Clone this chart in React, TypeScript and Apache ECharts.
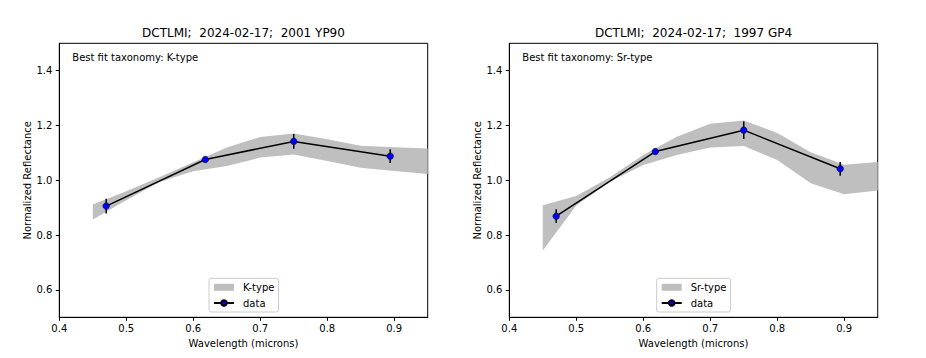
import React, { useEffect, useRef } from 'react';
import * as echarts from 'echarts';

// ---- data ----
const wavelengths = [0.47, 0.618, 0.75, 0.894];
const leftValues = [0.906, 1.076, 1.142, 1.088];
const leftErrors = [0.027, 0.008, 0.027, 0.025];
const rightValues = [0.869, 1.105, 1.183, 1.042];
const rightErrors = [0.025, 0.008, 0.032, 0.025];

const bandWavelengths = [0.45, 0.5, 0.55, 0.6, 0.65, 0.7, 0.75, 0.8, 0.85, 0.9, 0.95];
const kTypeUpper = [0.912, 0.96, 1.012, 1.066, 1.12, 1.158, 1.171, 1.15, 1.126, 1.121, 1.116];
const kTypeLower = [0.857, 0.927, 0.995, 1.033, 1.052, 1.083, 1.094, 1.07, 1.046, 1.034, 1.023];
const srTypeUpper = [0.909, 0.943, 1.011, 1.092, 1.159, 1.206, 1.218, 1.173, 1.102, 1.057, 1.067];
const srTypeLower = [0.744, 0.908, 0.995, 1.056, 1.092, 1.12, 1.125, 1.074, 0.989, 0.949, 0.963];

const xTicks = [0.4, 0.5, 0.6, 0.7, 0.8, 0.9];
const yTicks = [0.6, 0.8, 1.0, 1.2, 1.4];
const titles = ['DCTLMI;  2024-02-17;  2001 YP90', 'DCTLMI;  2024-02-17;  1997 GP4'];
const taxonomies = ['K-type', 'Sr-type'];

const FONT = '"DejaVu Sans", "Liberation Sans", sans-serif';
const BAND = '#bfbfbf';

const GRID_LEFTS = [59.3, 509.3];
const GRID_TOP = 43.3;
const GRID_W = 368.4;
const GRID_H = 274;

export default function App() {
  const ref = useRef<HTMLDivElement>(null);

  useEffect(() => {
    if (!ref.current) return;
    const chart = echarts.init(ref.current, null, { renderer: 'svg' });

    const panels = [
      { values: leftValues, errors: leftErrors, upper: kTypeUpper, lower: kTypeLower },
      { values: rightValues, errors: rightErrors, upper: srTypeUpper, lower: srTypeLower },
    ];

    const series: any[] = [];
    panels.forEach((p, idx) => {
      series.push({
        type: 'custom',
        name: taxonomies[idx],
        xAxisIndex: idx,
        yAxisIndex: idx,
        z: 1,
        silent: true,
        itemStyle: { color: BAND },
        data: bandWavelengths.map((w, i) => [w, p.lower[i], p.upper[i]]),
        encode: { x: 0, y: [1, 2] },
        renderItem: (params: any, api: any) => {
          if (params.dataIndex !== 0) return null;
          const pts: number[][] = [];
          for (let i = 0; i < bandWavelengths.length; i++) {
            pts.push(api.coord([bandWavelengths[i], p.upper[i]]));
          }
          for (let i = bandWavelengths.length - 1; i >= 0; i--) {
            pts.push(api.coord([bandWavelengths[i], p.lower[i]]));
          }
          return {
            type: 'polygon',
            shape: { points: pts },
            style: { fill: BAND, stroke: 'none' },
          };
        },
      });
      series.push({
        type: 'custom',
        name: 'errbar' + idx,
        xAxisIndex: idx,
        yAxisIndex: idx,
        z: 2,
        silent: true,
        data: wavelengths.map((w, i) => [w, p.values[i], p.errors[i]]),
        encode: { x: 0, y: 1 },
        renderItem: (params: any, api: any) => {
          const x = api.value(0);
          const y = api.value(1);
          const e = api.value(2);
          const a = api.coord([x, y - e]);
          const b = api.coord([x, y + e]);
          return {
            type: 'line',
            shape: { x1: a[0], y1: a[1], x2: b[0], y2: b[1] },
            style: { stroke: '#000', lineWidth: 1.5 },
          };
        },
      });
      series.push({
        type: 'line',
        name: 'data',
        xAxisIndex: idx,
        yAxisIndex: idx,
        z: 3,
        data: wavelengths.map((w, i) => [w, p.values[i]]),
        lineStyle: { color: '#000', width: 1.5 },
        itemStyle: { color: '#0000ff', borderColor: '#000', borderWidth: 0.6 },
        symbol: 'circle',
        symbolSize: 6.5,
        showSymbol: true,
      });
    });

    const axisText = { color: '#000', fontSize: 10, fontFamily: FONT };

    const option: any = {
      animation: false,
      grid: GRID_LEFTS.map((l) => ({
        left: l,
        top: GRID_TOP,
        width: GRID_W,
        height: GRID_H,
        show: true,
        borderColor: '#000',
        borderWidth: 1,
        backgroundColor: 'transparent',
      })),
      xAxis: [0, 1].map((i) => ({
        gridIndex: i,
        type: 'value',
        min: 0.4,
        max: 0.95,
        axisLine: { show: true, onZero: false, lineStyle: { color: '#000', width: 1 } },
        axisTick: { show: true, length: 3.5, customValues: xTicks, lineStyle: { color: '#000', width: 1 } },
        axisLabel: { ...axisText, customValues: xTicks, margin: 6, formatter: (v: number) => v.toFixed(1) },
        splitLine: { show: false },
        name: 'Wavelength (microns)',
        nameLocation: 'middle',
        nameGap: 20,
        nameTextStyle: axisText,
      })),
      yAxis: [0, 1].map((i) => ({
        gridIndex: i,
        type: 'value',
        min: 0.5,
        max: 1.5,
        axisLine: { show: true, onZero: false, lineStyle: { color: '#000', width: 1 } },
        axisTick: { show: true, length: 3.5, customValues: yTicks, lineStyle: { color: '#000', width: 1 } },
        axisLabel: { ...axisText, customValues: yTicks, margin: 7, formatter: (v: number) => v.toFixed(1) },
        splitLine: { show: false },
        name: 'Normalized Reflectance',
        nameLocation: 'middle',
        nameGap: 27,
        nameTextStyle: axisText,
      })),
      legend: [0, 1].map((i) => ({
        data: [{ name: taxonomies[i], icon: 'rect' }, { name: 'data' }],
        orient: 'vertical',
        left: i === 0 ? 209 : 656.7,
        top: 278.3,
        padding: [3, 4, 3, 4],
        itemGap: 3.7,
        itemWidth: 20,
        itemHeight: 7,
        borderColor: '#cccccc',
        borderWidth: 1,
        borderRadius: 2,
        backgroundColor: 'rgba(255,255,255,0.8)',
        selectedMode: false,
        textStyle: { color: '#000', fontSize: 10, fontFamily: FONT, lineHeight: 12, padding: [0, 0, 0, 4] },
      })),
      graphic: [
        ...[0, 1].map((i) => ({
          type: 'text',
          x: GRID_LEFTS[i] + GRID_W / 2,
          y: 32.7,
          style: {
            text: titles[i],
            fontSize: 12,
            fontFamily: FONT,
            fill: '#000',
            align: 'center',
            verticalAlign: 'middle',
          },
        })),
        ...[0, 1].map((i) => ({
          type: 'text',
          x: GRID_LEFTS[i] + 13,
          y: 57,
          style: {
            text: 'Best fit taxonomy: ' + taxonomies[i],
            fontSize: 10,
            fontFamily: FONT,
            fill: '#000',
            align: 'left',
            verticalAlign: 'middle',
          },
        })),
      ],
      series,
    };

    chart.setOption(option);
    return () => chart.dispose();
  }, []);

  return (
    <div
      ref={ref}
      style={{ position: 'absolute', left: 0, top: 0, width: 926, height: 358, background: '#fff' }}
    />
  );
}
